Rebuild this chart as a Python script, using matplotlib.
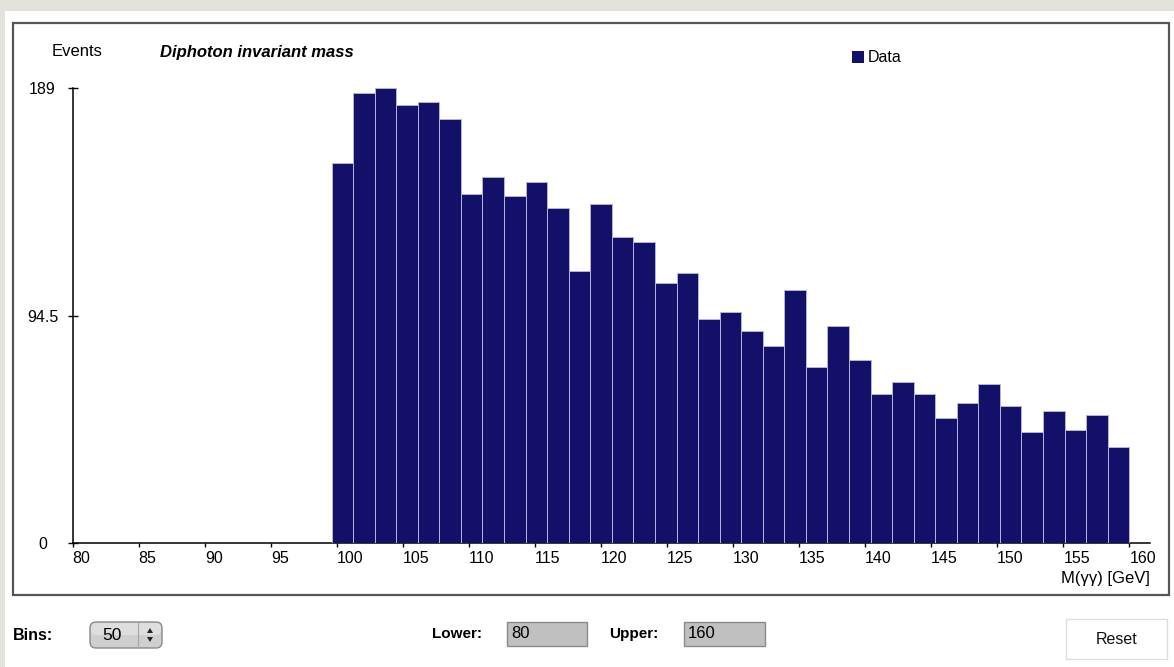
import numpy as np
import matplotlib
matplotlib.use("Agg")
import matplotlib.pyplot as plt
from matplotlib.patches import Rectangle, FancyBboxPatch, Polygon

# ---- data ----
counts = [158, 187, 189, 182, 183, 176, 145, 152, 144, 150, 139, 113, 141, 127,
          125, 108, 112, 93, 96, 88, 82, 105, 73, 90, 76, 62, 67, 62, 52, 58,
          66, 57, 46, 55, 47, 53, 40]
bin_lo = 99.6
bin_hi = 160.0
x_ticks = [80, 85, 90, 95, 100, 105, 110, 115, 120, 125, 130, 135, 140, 145, 150, 155, 160]
y_ticks = [0, 94.5, 189]
y_tick_labels = ["0", "94.5", "189"]
title = "Diphoton invariant mass"
ylabel = "Events"
xlabel = "M(γγ) [GeV]"
legend_label = "Data"
bins_value = "50"
lower_value = "80"
upper_value = "160"

plt.rcParams['font.family'] = ['Liberation Sans', 'DejaVu Sans']

W, H = 1174, 667
fig = plt.figure(figsize=(W / 100, H / 100), dpi=100)
fig.patch.set_facecolor('#e4e2dd')

# overlay axes in pixel coordinates (y from top)
bg = fig.add_axes([0, 0, 1, 1], zorder=0)
bg.set_xlim(0, W)
bg.set_ylim(H, 0)
bg.axis('off')
bg.add_patch(Rectangle((5, 11), W - 5, H - 11, facecolor='white', edgecolor='none'))
bg.add_patch(Rectangle((12.7, 22.7), 1169 - 12.7, 595 - 22.7, facecolor='white',
                       edgecolor='#555555', linewidth=1.6))

# main chart axes
left_px, right_px, top_px, bot_px = 72.7, 1150, 88, 543
ax = fig.add_axes([left_px / W, 1 - bot_px / H, (right_px - left_px) / W,
                   (bot_px - top_px) / H], zorder=2)
ax.patch.set_alpha(0)
px_per_unit = (1129.3 - 72.7) / 80.0
ax.set_xlim(80, 80 + (right_px - left_px) / px_per_unit)
ax.set_ylim(0, 189)

edges = np.linspace(bin_lo, bin_hi, len(counts) + 1)
ax.bar(edges[:-1], counts, width=np.diff(edges), align='edge',
       color='#13106a', edgecolor='#b4b4dc', linewidth=0.7, zorder=3)

for s in ['top', 'right']:
    ax.spines[s].set_visible(False)
ax.spines['left'].set_bounds(0, 189)
ax.spines['left'].set_linewidth(1.1)
ax.spines['bottom'].set_linewidth(1.1)

ax.set_xticks(x_ticks)
ax.set_xticklabels([str(t) for t in x_ticks])
ax.tick_params(axis='x', direction='out', length=3, width=1.0, pad=2.5,
               labelsize=11.5, colors='black')
for lbl in ax.get_xticklabels():
    lbl.set_horizontalalignment('left')

ax.set_yticks(y_ticks)
ax.set_yticklabels(y_tick_labels)
ax.tick_params(axis='y', direction='inout', length=7.5, width=1.0, pad=18,
               labelsize=11.5, colors='black')
for lbl in ax.get_yticklabels():
    lbl.set_horizontalalignment('center')

# texts on the chart
bg.text(52, 52, ylabel, fontsize=12, ha='left', va='center', zorder=5)
bg.text(160, 52, title, fontsize=12, fontweight='bold', fontstyle='italic',
        ha='left', va='center', zorder=5)
bg.add_patch(Rectangle((852, 50.5), 11.5, 12, facecolor='#13106a', edgecolor='none', zorder=5))
bg.text(867.5, 57, legend_label, fontsize=11.5, ha='left', va='center', zorder=5)
bg.text(1150, 579, xlabel, fontsize=12, ha='right', va='center', zorder=5)

# bottom controls
bg.text(13, 635, "Bins:", fontsize=11.5, fontweight='bold', ha='left', va='center')
bg.add_patch(FancyBboxPatch((90, 622), 72, 26, boxstyle="round,pad=0,rounding_size=6",
                            facecolor='#cfcfcf', edgecolor='#8a8a8a', linewidth=1.0))
bg.add_patch(FancyBboxPatch((91, 623), 70, 12, boxstyle="round,pad=0,rounding_size=5",
                            facecolor='#dedede', edgecolor='none'))
bg.plot([138, 138], [623, 647], color='#a5a5a5', linewidth=0.8)
bg.text(112, 635.5, bins_value, fontsize=12.5, ha='center', va='center')
bg.add_patch(Polygon([[147, 633], [153, 633], [150, 628]], closed=True,
                     facecolor='#222222', edgecolor='none'))
bg.add_patch(Polygon([[147, 637], [153, 637], [150, 642]], closed=True,
                     facecolor='#222222', edgecolor='none'))

bg.text(432, 634, "Lower:", fontsize=11, fontweight='bold', ha='left', va='center')
bg.add_patch(Rectangle((507, 622), 80, 24, facecolor='#c0c0c0', edgecolor='#8a8a8a', linewidth=1.0))
bg.text(511, 634, lower_value, fontsize=12, ha='left', va='center')

bg.text(609, 634, "Upper:", fontsize=11, fontweight='bold', ha='left', va='center')
bg.add_patch(Rectangle((684, 622), 81, 24, facecolor='#c0c0c0', edgecolor='#8a8a8a', linewidth=1.0))
bg.text(688, 634, upper_value, fontsize=12, ha='left', va='center')

bg.add_patch(Rectangle((1066, 619), 101, 40, facecolor='white', edgecolor='#dedede', linewidth=1.0))
bg.text(1117, 639, "Reset", fontsize=11.5, ha='center', va='center', color='#111111')

fig.savefig("out.png", dpi=100, facecolor=fig.get_facecolor())
